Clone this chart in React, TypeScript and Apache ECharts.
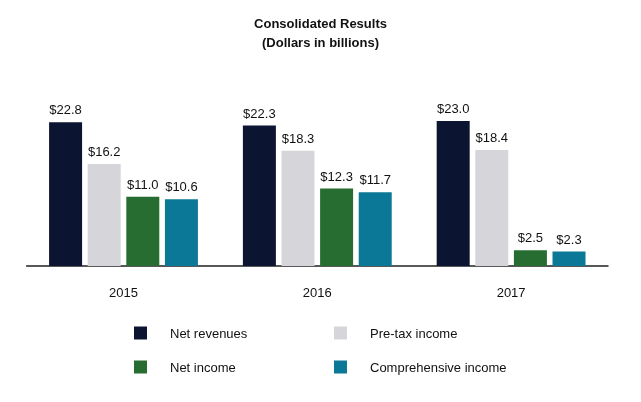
import React, { useEffect, useRef } from "react";
import * as echarts from "echarts";

const years = ["2015", "2016", "2017"];
const netRevenues = [22.8, 22.3, 23.0];
const preTaxIncome = [16.2, 18.3, 18.4];
const netIncome = [11.0, 12.3, 2.5];
const comprehensiveIncome = [10.6, 11.7, 2.3];

const FONT = "'Liberation Sans', Arial, sans-serif";

export default function App() {
  const ref = useRef<HTMLDivElement>(null);
  useEffect(() => {
    if (!ref.current) return;
    const chart = echarts.init(ref.current, undefined, { renderer: "svg" });
    const label = {
      show: true,
      position: "top",
      distance: 6,
      color: "#111",
      fontSize: 13,
      fontFamily: FONT,
      formatter: (p: any) => "$" + Number(p.value).toFixed(1),
    };
    const mk = (name: string, data: number[], color: string) => ({
      name,
      type: "bar",
      data,
      barWidth: 33,
      barGap: "17%",
      itemStyle: { color },
      label,
    });
    const legendText = { fontSize: 13, fontFamily: FONT, color: "#111", padding: [0, 0, 0, 18] };
    chart.setOption({
      animation: false,
      title: {
        text: "Consolidated Results\n(Dollars in billions)",
        left: "center",
        top: 9,
        textStyle: { fontSize: 13, fontWeight: "bold", fontFamily: FONT, color: "#111", lineHeight: 19 },
      },
      grid: { left: 26.6, right: 33, top: 108.5, bottom: 136, containLabel: false },
      legend: [
        {
          orient: "vertical",
          left: 134,
          top: 326.5,
          padding: 0,
          itemWidth: 13,
          itemHeight: 13,
          itemGap: 21,
          icon: "rect",
          data: ["Net revenues", "Net income"],
          textStyle: legendText,
        },
        {
          orient: "vertical",
          left: 334,
          top: 326.5,
          padding: 0,
          itemWidth: 13,
          itemHeight: 13,
          itemGap: 21,
          icon: "rect",
          data: ["Pre-tax income", "Comprehensive income"],
          textStyle: legendText,
        },
      ],
      xAxis: {
        type: "category",
        data: years,
        axisLine: { lineStyle: { color: "#222", width: 1.5 } },
        axisTick: { alignWithLabel: true, length: 5, lineStyle: { color: "#222" } },
        axisLabel: { fontSize: 13, fontFamily: FONT, color: "#111", margin: 20 },
      },
      yAxis: {
        type: "value",
        min: 0,
        max: 25,
        show: false,
        splitLine: { show: false },
      },
      series: [
        mk("Net revenues", netRevenues, "#0b1430"),
        mk("Pre-tax income", preTaxIncome, "#d6d5da"),
        mk("Net income", netIncome, "#276c30"),
        mk("Comprehensive income", comprehensiveIncome, "#0a7896"),
      ],
    });
    return () => chart.dispose();
  }, []);
  return <div ref={ref} style={{ position: "fixed", left: 0, top: 0, width: 641, height: 402 }} />;
}
